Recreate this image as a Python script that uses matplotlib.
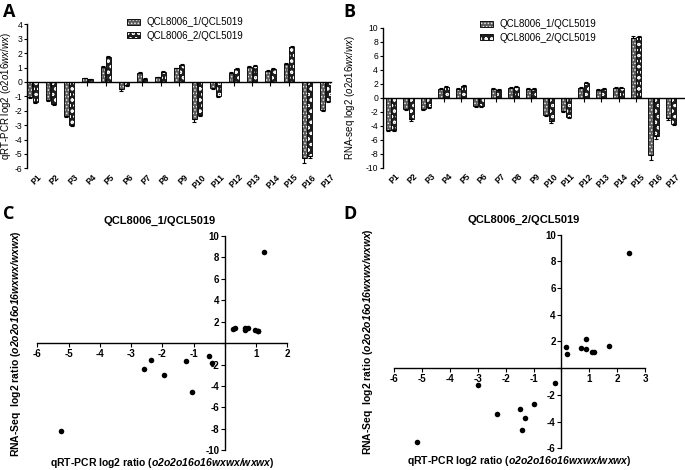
import matplotlib
matplotlib.use('Agg')
import matplotlib.pyplot as plt
import matplotlib.transforms as mtransforms
from matplotlib.patches import Patch
import numpy as np

plt.rcParams['font.family'] = ['Liberation Sans', 'DejaVu Sans']
plt.rcParams['mathtext.fontset'] = 'custom'
plt.rcParams['mathtext.rm'] = 'Liberation Sans'
plt.rcParams['mathtext.it'] = 'Liberation Sans:italic'
plt.rcParams['mathtext.bf'] = 'Liberation Sans:bold'
plt.rcParams['mathtext.bfit'] = 'Liberation Sans:italic:bold'
plt.rcParams['hatch.linewidth'] = 0.7

# ---------------- data ----------------
categories = ['P1', 'P2', 'P3', 'P4', 'P5', 'P6', 'P7', 'P8', 'P9', 'P10',
              'P11', 'P12', 'P13', 'P14', 'P15', 'P16', 'P17']
series_names = ['QCL8006_1/QCL5019', 'QCL8006_2/QCL5019']

qpcr_1 = [-1.05, -1.25, -2.35, 0.25, 1.05, -0.52, 0.65, 0.32, 0.95, -2.6,
          -0.42, 0.65, 1.05, 0.75, 1.25, -5.25, -1.95]
qpcr_2 = [-1.4, -1.5, -3.0, 0.18, 1.72, -0.22, 0.2, 0.72, 1.17, -2.3,
          -1.0, 0.9, 1.1, 0.9, 2.42, -5.17, -1.3]
qpcr_err_1 = [0.08, 0.08, 0.1, 0.05, 0.05, 0.1, 0.05, 0.05, 0.05, 0.2,
              0.1, 0.05, 0.05, 0.05, 0.05, 0.35, 0.06]
qpcr_err_2 = [0.08, 0.08, 0.08, 0.05, 0.1, 0.06, 0.05, 0.06, 0.06, 0.08,
              0.08, 0.06, 0.06, 0.06, 0.1, 0.12, 0.08]

rnaseq_1 = [-4.6, -1.66, -1.6, 1.3, 1.17, -1.17, 1.2, 1.4, 1.2, -2.41,
            -1.88, 1.4, 1.1, 1.4, 8.48, -8.23, -2.97]
rnaseq_2 = [-4.65, -3.08, -1.26, 1.56, 1.65, -1.13, 1.04, 1.51, 1.2, -3.4,
            -2.7, 2.16, 1.2, 1.44, 8.6, -5.53, -3.73]
rnaseq_err_1 = [0.15, 0.15, 0.15, 0.15, 0.15, 0.15, 0.15, 0.15, 0.15, 0.15,
                0.15, 0.15, 0.15, 0.15, 0.4, 0.6, 0.15]
rnaseq_err_2 = [0.15, 0.2, 0.15, 0.15, 0.15, 0.15, 0.15, 0.15, 0.15, 0.2,
                0.2, 0.15, 0.15, 0.15, 0.2, 0.3, 0.2]

# ---------------- figure ----------------
fig = plt.figure(figsize=(6.85, 4.70), dpi=100)

fill1 = dict(facecolor='#5a5a5a', edgecolor='#e8e8e8', hatch='.....', linewidth=0)
fill2 = dict(facecolor='#1e1e1e', edgecolor='#f4f4f4', hatch='ooo', linewidth=0)
outline = dict(facecolor='none', edgecolor='#111111', linewidth=0.7)


def bar_panel(rect, v1, v2, e1, e2, ylim, yticks, ylabel, xlim, width, off, leg_anchor):
    ax = fig.add_axes(rect)
    x = np.arange(len(categories))
    v1 = np.asarray(v1); v2 = np.asarray(v2)
    e1 = np.asarray(e1); e2 = np.asarray(e2)
    err1 = [np.where(v1 < 0, e1, 0), np.where(v1 >= 0, e1, 0)]
    err2 = [np.where(v2 < 0, e2, 0), np.where(v2 >= 0, e2, 0)]
    ekw = dict(elinewidth=0.8, capsize=1.2, capthick=0.8, ecolor='black')
    ax.bar(x - off, v1, width, **fill1)
    ax.bar(x - off, v1, width, yerr=err1, error_kw=ekw, **outline)
    ax.bar(x + off, v2, width, **fill2)
    ax.bar(x + off, v2, width, yerr=err2, error_kw=ekw, **outline)
    ax.set_xlim(*xlim)
    ax.set_ylim(*ylim)
    ax.set_yticks(yticks)
    ax.set_yticklabels([str(t) for t in yticks], fontsize=6.2)
    ax.spines['top'].set_visible(False)
    ax.spines['right'].set_visible(False)
    ax.spines['bottom'].set_position(('data', 0))
    ax.spines['bottom'].set_linewidth(1.0)
    ax.spines['left'].set_linewidth(1.0)
    ax.set_xticks(x)
    ax.set_xticklabels([])
    ax.tick_params(axis='x', direction='out', length=3, width=0.8)
    ax.tick_params(axis='y', direction='out', length=2.5, width=0.8, pad=1)
    trans = mtransforms.blended_transform_factory(ax.transData, ax.transAxes)
    for xi, lab in zip(x, categories):
        ax.text(xi + 0.25, -0.03, lab, transform=trans, rotation=45,
                rotation_mode='anchor', ha='right', va='top', fontsize=6.2,
                fontweight='bold')
    ax.set_ylabel(ylabel, fontsize=7, labelpad=2)
    h1 = (Patch(**fill1), Patch(**outline))
    h2 = (Patch(**fill2), Patch(**outline))
    ax.legend([h1, h2], series_names, loc='upper left', bbox_to_anchor=leg_anchor,
              frameon=False, fontsize=7, handlelength=1.3, handleheight=0.6,
              handletextpad=0.7, labelspacing=0.35, borderpad=0, borderaxespad=0)
    return ax


axA = bar_panel([0.0399, 0.6419, 0.4434, 0.3064], qpcr_1, qpcr_2, qpcr_err_1, qpcr_err_2,
                (-6, 4), list(range(-6, 5)),
                r'qRT-PCR log2 ($\mathit{o2o16wx/wx}$)', (-0.28, 16.31), 0.26, 0.15,
                (0.328, 1.05))
axB = bar_panel([0.5591, 0.6432, 0.4394, 0.2979], rnaseq_1, rnaseq_2, rnaseq_err_1, rnaseq_err_2,
                (-10, 10), list(range(-10, 11, 2)),
                r'RNA-seq log2 ($\mathit{o2o16wx/wx}$)', (-0.46, 16.74), 0.28, 0.16,
                (0.322, 1.06))
axA.yaxis.set_label_coords(-0.047, 0.5)
axB.yaxis.set_label_coords(-0.085, 0.5)


def scatter_panel(rect, xv, yv, xlim, xticks, ylim, yticks, title, title_xy, ylab_x):
    ax = fig.add_axes(rect)
    ax.scatter(xv, yv, s=16, color='black', zorder=3, linewidths=0)
    ax.set_xlim(*xlim)
    ax.set_ylim(*ylim)
    for side in ('top', 'right'):
        ax.spines[side].set_visible(False)
    ax.spines['left'].set_position(('data', 0))
    ax.spines['bottom'].set_position(('data', 0))
    ax.spines['left'].set_linewidth(1.0)
    ax.spines['bottom'].set_linewidth(1.0)
    ax.set_xticks(xticks)
    ax.set_xticklabels(['' if t == 0 else str(t) for t in xticks],
                       fontsize=7, fontweight='bold')
    ax.set_yticks(yticks)
    ax.set_yticklabels(['' if t == 0 else str(t) for t in yticks],
                       fontsize=7, fontweight='bold')
    ax.tick_params(direction='out', length=3, width=0.8, pad=1)
    ax.text(title_xy[0], title_xy[1], title, transform=ax.transAxes,
            ha='center', va='center', fontsize=8, fontweight='bold')
    ax.set_xlabel(r'qRT-PCR log2 ratio ($\mathbfit{o2o2o16o16wxwx/wxwx}$)',
                  fontsize=7.5, fontweight='bold')
    ax.set_ylabel(r'RNA-Seq  log2 ratio ($\mathbfit{o2o2o16o16wxwx/wxwx}$)',
                  fontsize=7.5, fontweight='bold')
    ax.xaxis.set_label_coords(0.5, -0.025)
    ax.yaxis.set_label_coords(ylab_x, 0.5)
    return ax


axC = scatter_panel([0.0545, 0.0419, 0.365, 0.456], qpcr_1, rnaseq_1,
                    (-6, 2), list(range(-6, 3)), (-10, 10), list(range(-10, 11, 2)),
                    series_names[0], (0.49, 1.07), -0.057)
axD = scatter_panel([0.5756, 0.0462, 0.366, 0.4545], qpcr_2, rnaseq_2,
                    (-6, 3), list(range(-6, 4)), (-6, 10), list(range(-6, 11, 2)),
                    series_names[1], (0.517, 1.069), -0.077)

for lab, (px, py) in zip('ABCD', [(3, 3), (343, 3), (3, 205), (343, 205)]):
    fig.text(px / 685, 1 - py / 470, lab, ha='left', va='top',
             fontsize=13, fontweight='bold', family=['Open Sans', 'DejaVu Sans'])

fig.savefig('out.png', dpi=100)
